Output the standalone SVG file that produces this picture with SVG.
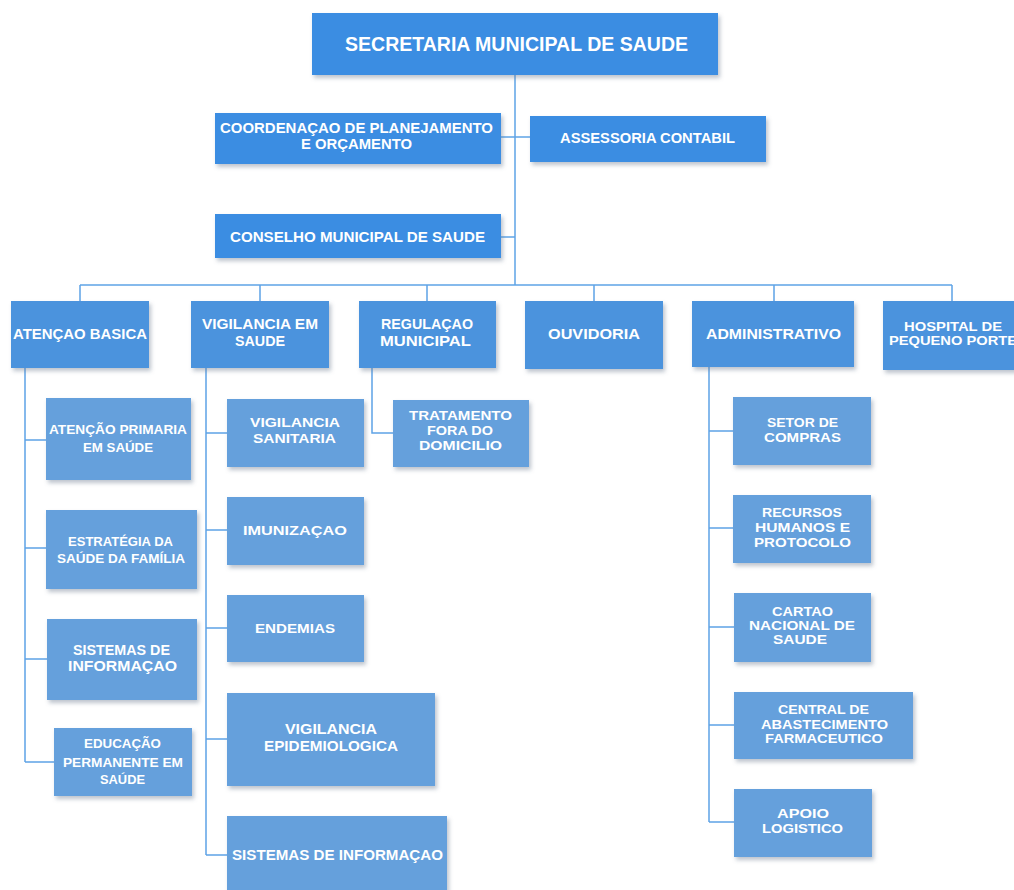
<svg xmlns="http://www.w3.org/2000/svg" width="1014" height="890" viewBox="0 0 1014 890">
<defs>
<filter id="sh" x="-10%" y="-10%" width="125%" height="130%">
<feDropShadow dx="2" dy="3" stdDeviation="2" flood-color="#6b7d90" flood-opacity="0.45"/>
</filter>
<style>
.b0{fill:#3a8de2;filter:url(#sh)}
.b1{fill:#4b93dd;filter:url(#sh)}
.b2{fill:#65a0dc;filter:url(#sh)}
text{fill:#ffffff;font-family:"Liberation Sans",Arial,sans-serif;font-weight:bold;text-anchor:middle}
.t0{font-size:20px}
.t1{font-size:14px}
.t2{font-size:14px}
.t3{font-size:13px}
.ln{fill:none;stroke:#5ea3e6;stroke-width:1.5}
</style>
</defs>
<rect width="1014" height="890" fill="#ffffff"/>
<g id="connectors" class="ln">
<path d="M515 75 V285"/>
<path d="M501 137 H530"/>
<path d="M501 237 H515"/>
<path d="M80 285 H952"/>
<path d="M80 285 V301 M260 285 V301 M427 285 V301 M594 285 V301 M774 285 V301 M952 285 V301"/>
<path d="M25 368 V762 M25 440 H46 M25 548 H46 M25 659 H47 M25 762 H54"/>
<path d="M206 368 V855 M206 433 H227 M206 530 H227 M206 628 H227 M206 739 H227 M206 855 H227"/>
<path d="M372 368 V433 H393"/>
<path d="M709 367 V822 M709 431 H733 M709 528 H733 M709 627 H734 M709 725 H734 M709 822 H734"/>
</g>
<g id="secretaria"><rect class="b0" x="312" y="13" width="406" height="62"/><text class="t0" x="516.5" y="51" textLength="343" lengthAdjust="spacingAndGlyphs">SECRETARIA MUNICIPAL DE SAUDE</text></g>
<g id="coordenacao"><rect class="b0" x="215" y="113" width="286" height="51"/><text class="t1" x="356.5" y="133" textLength="273" lengthAdjust="spacingAndGlyphs">COORDENAÇAO DE PLANEJAMENTO</text><text class="t1" x="356.5" y="149" textLength="111" lengthAdjust="spacingAndGlyphs">E ORÇAMENTO</text></g>
<g id="assessoria"><rect class="b0" x="530" y="116" width="236" height="46"/><text class="t1" x="647.5" y="143" textLength="175" lengthAdjust="spacingAndGlyphs">ASSESSORIA CONTABIL</text></g>
<g id="conselho"><rect class="b0" x="215" y="214" width="286" height="44"/><text class="t1" x="357.5" y="242" textLength="255" lengthAdjust="spacingAndGlyphs">CONSELHO MUNICIPAL DE SAUDE</text></g>
<g id="atencao-basica"><rect class="b1" x="11" y="301" width="138" height="67"/><text class="t2" x="80" y="339" textLength="134" lengthAdjust="spacingAndGlyphs">ATENÇAO BASICA</text></g>
<g id="vigilancia-saude"><rect class="b1" x="191" y="301" width="138" height="67"/><text class="t2" x="260" y="329" textLength="116" lengthAdjust="spacingAndGlyphs">VIGILANCIA EM</text><text class="t2" x="260" y="346" textLength="50" lengthAdjust="spacingAndGlyphs">SAUDE</text></g>
<g id="regulacao"><rect class="b1" x="359" y="301" width="137" height="67"/><text class="t2" x="427" y="329" textLength="92" lengthAdjust="spacingAndGlyphs">REGULAÇAO</text><text class="t2" x="425.5" y="346" textLength="91" lengthAdjust="spacingAndGlyphs">MUNICIPAL</text></g>
<g id="ouvidoria"><rect class="b1" x="525" y="301" width="138" height="68"/><text class="t2" x="594" y="339" textLength="92" lengthAdjust="spacingAndGlyphs">OUVIDORIA</text></g>
<g id="administrativo"><rect class="b1" x="692" y="301" width="162" height="66"/><text class="t2" x="773.5" y="339" textLength="135" lengthAdjust="spacingAndGlyphs">ADMINISTRATIVO</text></g>
<g id="hospital"><rect class="b1" x="883" y="301" width="141" height="69"/><text class="t3" x="953" y="331" textLength="98" lengthAdjust="spacingAndGlyphs">HOSPITAL DE</text><text class="t3" x="953" y="345" textLength="128" lengthAdjust="spacingAndGlyphs">PEQUENO PORTE</text></g>
<g id="atencao-primaria"><rect class="b2" x="46" y="398" width="145" height="82"/><text class="t3" x="118" y="434" textLength="138" lengthAdjust="spacingAndGlyphs">ATENÇÃO PRIMARIA</text><text class="t3" x="118" y="452" textLength="70" lengthAdjust="spacingAndGlyphs">EM SAÚDE</text></g>
<g id="estrategia"><rect class="b2" x="46" y="510" width="151" height="79"/><text class="t3" x="120.5" y="546" textLength="105" lengthAdjust="spacingAndGlyphs">ESTRATÉGIA DA</text><text class="t3" x="121" y="563" textLength="128" lengthAdjust="spacingAndGlyphs">SAÚDE DA FAMÍLIA</text></g>
<g id="sistemas-ab"><rect class="b2" x="47" y="619" width="150" height="81"/><text class="t2" x="121.5" y="655" textLength="97" lengthAdjust="spacingAndGlyphs">SISTEMAS DE</text><text class="t2" x="122.5" y="671" textLength="109" lengthAdjust="spacingAndGlyphs">INFORMAÇAO</text></g>
<g id="educacao"><rect class="b2" x="54" y="728" width="138" height="68"/><text class="t3" x="122.5" y="748" textLength="77" lengthAdjust="spacingAndGlyphs">EDUCAÇÃO</text><text class="t3" x="123" y="767" textLength="120" lengthAdjust="spacingAndGlyphs">PERMANENTE EM</text><text class="t3" x="122.5" y="784" textLength="45" lengthAdjust="spacingAndGlyphs">SAÚDE</text></g>
<g id="vig-sanitaria"><rect class="b2" x="227" y="399" width="137" height="68"/><text class="t3" x="295" y="427" textLength="90" lengthAdjust="spacingAndGlyphs">VIGILANCIA</text><text class="t3" x="294.5" y="443" textLength="83" lengthAdjust="spacingAndGlyphs">SANITARIA</text></g>
<g id="imunizacao"><rect class="b2" x="227" y="497" width="137" height="68"/><text class="t3" x="295" y="535" textLength="104" lengthAdjust="spacingAndGlyphs">IMUNIZAÇAO</text></g>
<g id="endemias"><rect class="b2" x="227" y="595" width="137" height="67"/><text class="t3" x="295" y="633" textLength="80" lengthAdjust="spacingAndGlyphs">ENDEMIAS</text></g>
<g id="vig-epidemiologica"><rect class="b2" x="227" y="693" width="208" height="93"/><text class="t2" x="331" y="734" textLength="92" lengthAdjust="spacingAndGlyphs">VIGILANCIA</text><text class="t2" x="331" y="751" textLength="134" lengthAdjust="spacingAndGlyphs">EPIDEMIOLOGICA</text></g>
<g id="sistemas-vs"><rect class="b2" x="227" y="816" width="220" height="80"/><text class="t2" x="337.5" y="860" textLength="211" lengthAdjust="spacingAndGlyphs">SISTEMAS DE INFORMAÇAO</text></g>
<g id="tratamento"><rect class="b2" x="393" y="400" width="136" height="67"/><text class="t3" x="460.5" y="420" textLength="103" lengthAdjust="spacingAndGlyphs">TRATAMENTO</text><text class="t3" x="460" y="435" textLength="66" lengthAdjust="spacingAndGlyphs">FORA DO</text><text class="t3" x="460.5" y="450" textLength="83" lengthAdjust="spacingAndGlyphs">DOMICILIO</text></g>
<g id="setor-compras"><rect class="b2" x="733" y="397" width="138" height="68"/><text class="t3" x="802.5" y="427" textLength="71" lengthAdjust="spacingAndGlyphs">SETOR DE</text><text class="t3" x="802.5" y="442" textLength="77" lengthAdjust="spacingAndGlyphs">COMPRAS</text></g>
<g id="recursos-humanos"><rect class="b2" x="733" y="495" width="138" height="68"/><text class="t3" x="802" y="517" textLength="80" lengthAdjust="spacingAndGlyphs">RECURSOS</text><text class="t3" x="802.5" y="532" textLength="95" lengthAdjust="spacingAndGlyphs">HUMANOS E</text><text class="t3" x="802.5" y="547" textLength="97" lengthAdjust="spacingAndGlyphs">PROTOCOLO</text></g>
<g id="cartao"><rect class="b2" x="734" y="593" width="137" height="69"/><text class="t3" x="802.5" y="616" textLength="61" lengthAdjust="spacingAndGlyphs">CARTAO</text><text class="t3" x="802" y="630" textLength="106" lengthAdjust="spacingAndGlyphs">NACIONAL DE</text><text class="t3" x="800" y="644" textLength="54" lengthAdjust="spacingAndGlyphs">SAUDE</text></g>
<g id="central"><rect class="b2" x="734" y="692" width="179" height="67"/><text class="t3" x="823.5" y="714" textLength="91" lengthAdjust="spacingAndGlyphs">CENTRAL DE</text><text class="t3" x="824.5" y="729" textLength="127" lengthAdjust="spacingAndGlyphs">ABASTECIMENTO</text><text class="t3" x="824" y="743" textLength="118" lengthAdjust="spacingAndGlyphs">FARMACEUTICO</text></g>
<g id="apoio"><rect class="b2" x="734" y="789" width="138" height="68"/><text class="t3" x="803" y="818" textLength="52" lengthAdjust="spacingAndGlyphs">APOIO</text><text class="t3" x="802.5" y="833" textLength="81" lengthAdjust="spacingAndGlyphs">LOGISTICO</text></g>
</svg>
